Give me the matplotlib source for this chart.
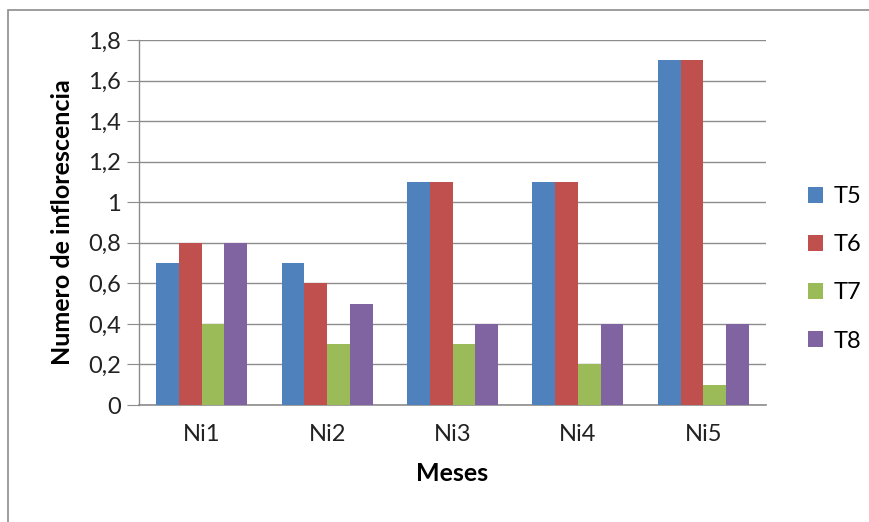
import matplotlib.pyplot as plt
import matplotlib.patches as mpatches
import numpy as np

plt.rcParams["font.family"] = ["Lato", "DejaVu Sans"]

MESES = ["Ni1", "Ni2", "Ni3", "Ni4", "Ni5"]
T5 = [0.7, 0.7, 1.1, 1.1, 1.7]
T6 = [0.8, 0.6, 1.1, 1.1, 1.7]
T7 = [0.4, 0.3, 0.3, 0.2, 0.1]
T8 = [0.8, 0.5, 0.4, 0.4, 0.4]
SERIES = ["T5", "T6", "T7", "T8"]
COLORS = ["#4F81BD", "#C0504D", "#9BBB59", "#8064A2"]
Y_TICKS = [0, 0.2, 0.4, 0.6, 0.8, 1.0, 1.2, 1.4, 1.6, 1.8]
Y_LABELS = ["0", "0,2", "0,4", "0,6", "0,8", "1", "1,2", "1,4", "1,6", "1,8"]

fig = plt.figure(figsize=(8.7, 5.22), dpi=100)
ax = fig.add_axes([0.1598, 0.2241, 0.7207, 0.6993])

# chart frame (runs off the right and bottom edges)
fig.patches.append(mpatches.Rectangle((8 / 870, -0.05), 1.2, 1 - 10 / 522 + 0.05,
                                      transform=fig.transFigure, fill=False,
                                      edgecolor="#8c8c8c", linewidth=1.2))

x = np.arange(len(MESES))
width = 0.1815
for i, (vals, name, col) in enumerate(zip([T5, T6, T7, T8], SERIES, COLORS)):
    ax.bar(x + (i - 1.5) * width, vals, width, color=col, label=name, zorder=3)

ax.set_xlim(-0.5, 4.5)
ax.set_ylim(0, 1.8)
ax.set_yticks(Y_TICKS)
ax.set_yticklabels(Y_LABELS)
ax.set_xticks(x)
ax.set_xticklabels(MESES)
ax.yaxis.grid(True, color="#8c8c8c", linewidth=1.0, zorder=0)
for s in ["top", "right"]:
    ax.spines[s].set_visible(False)
ax.spines["left"].set_color("#8c8c8c")
ax.spines["bottom"].set_color("#8c8c8c")
ax.spines["left"].set_linewidth(1.0)
ax.spines["bottom"].set_linewidth(1.2)
ax.tick_params(axis="y", length=9, color="#8c8c8c", labelsize=17, pad=4)
ax.tick_params(axis="x", length=0, labelsize=17, pad=14)
for lbl in ax.get_xticklabels() + ax.get_yticklabels():
    lbl.set_color("#222222")

ax.set_ylabel("Numero de inflorescencia", fontsize=18, fontweight="bold", labelpad=10)
ax.set_xlabel("Meses", fontsize=18, fontweight="bold", labelpad=12)

handles, labels = ax.get_legend_handles_labels()
fig.legend(handles, labels, loc="center left", bbox_to_anchor=(0.918, 0.485),
           frameon=False, fontsize=17, handlelength=0.65, handleheight=0.65,
           handletextpad=0.45, labelspacing=1.15, borderaxespad=0)

fig.savefig("out.png", dpi=100)
